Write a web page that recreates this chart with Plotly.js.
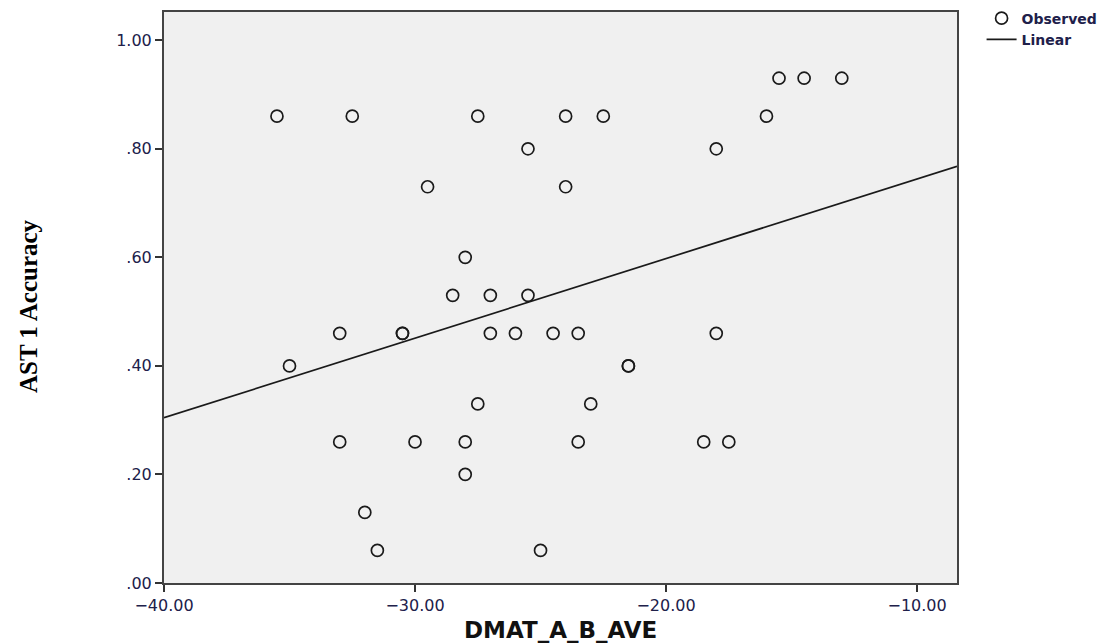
<!DOCTYPE html>
<html>
<head>
<meta charset="utf-8">
<script src="https://cdn.plot.ly/plotly-3.0.1.min.js"></script>
<style>html,body{margin:0;padding:0;background:#fff;}#chart{width:1111px;height:643px;}</style>
</head>
<body>
<div id="chart"></div>
<script>
// Observed data (DMAT_A_B_AVE vs AST 1 Accuracy)
const dmatAve = [-35.5,-32.5,-27.5,-29.5,-28,-28.5,-27,-15.5,-14.5,-13,-16,-18,-24,-22.5,-25.5,-24,-25.5,
  -35,-33,-30.5,-30.5,-33,-30,-28,-28,-27.5,-32,-31.5,-27,-26,-24.5,-23.5,-18,-21.5,-21.5,-23,-23.5,-18.5,-17.5,-25];
const astAccuracy = [0.86,0.86,0.86,0.73,0.60,0.53,0.53,0.93,0.93,0.93,0.86,0.80,0.86,0.86,0.80,0.73,0.53,
  0.40,0.46,0.46,0.46,0.26,0.26,0.26,0.20,0.33,0.13,0.06,0.46,0.46,0.46,0.46,0.46,0.40,0.40,0.33,0.26,0.26,0.26,0.06];
const xTickVals = [-40,-30,-20,-10];
const xTickText = ['\u221240.00','\u221230.00','\u221220.00','\u221210.00'];
const yTickVals = [0,0.2,0.4,0.6,0.8,1.0];
const yTickText = ['.00','.20','.40','.60','.80','1.00'];
const xRange = [-40,-8.41];
const yRange = [0,1.052];

// least squares linear fit
const n = dmatAve.length;
const mx = dmatAve.reduce((a,b)=>a+b,0)/n;
const my = astAccuracy.reduce((a,b)=>a+b,0)/n;
let sxy=0,sxx=0;
for(let i=0;i<n;i++){sxy+=(dmatAve[i]-mx)*(astAccuracy[i]-my);sxx+=(dmatAve[i]-mx)**2;}
const slope=sxy/sxx, intercept=my-slope*mx;
const fitX = xRange.slice();
const fitY = fitX.map(x=>intercept+slope*x);

const sans = '"DejaVu Sans", Verdana, sans-serif';
const tickFont = {family:sans, size:16, color:'#20204a'};
const data = [
  {x:dmatAve, y:astAccuracy, type:'scatter', mode:'markers', name:'Observed',
   marker:{symbol:'circle-open', size:12, color:'#1a1a1a', line:{width:1.7, color:'#1a1a1a'}}},
  {x:fitX, y:fitY, type:'scatter', mode:'lines', name:'Linear',
   line:{color:'#1a1a1a', width:1.7}}
];
const layout = {
  width:1111, height:643,
  margin:{l:164, r:154, t:12, b:60, autoexpand:false},
  paper_bgcolor:'#ffffff', plot_bgcolor:'#f0f0f0',
  showlegend:true,
  legend:{x:1.031, y:0.996, yref:'container', xanchor:'left', yanchor:'top', bgcolor:'rgba(0,0,0,0)',
    font:{family:sans, size:14, color:'#20204a', weight:'bold'},
    tracegroupgap:0, itemwidth:30},
  xaxis:{range:xRange, tickvals:xTickVals, ticktext:xTickText, ticks:'outside', ticklen:7, tickwidth:2,
    tickcolor:'#333', showline:true, linecolor:'#444', linewidth:2, mirror:true, showgrid:false, zeroline:false,
    tickfont:tickFont},
  yaxis:{range:yRange, tickvals:yTickVals, ticktext:yTickText, ticks:'outside', ticklen:7, tickwidth:2,
    tickcolor:'#333', showline:true, linecolor:'#444', linewidth:2, mirror:true, showgrid:false, zeroline:false,
    tickfont:tickFont},
  annotations:[
    {text:'<b>DMAT_A_B_AVE</b>', xref:'paper', yref:'paper', x:0.5, y:-0.083, xanchor:'center', yanchor:'middle',
     showarrow:false, font:{family:sans, size:23, color:'#111'}},
    {text:'<b>AST 1 Accuracy</b>', xref:'paper', yref:'paper', x:-0.1715, y:0.485, xanchor:'center', yanchor:'middle',
    textangle:-90, showarrow:false, font:{family:'"Liberation Serif", "Times New Roman", serif', size:25, color:'#000'}}]
};
Plotly.newPlot('chart', data, layout, {displayModeBar:false});
</script>
</body>
</html>
